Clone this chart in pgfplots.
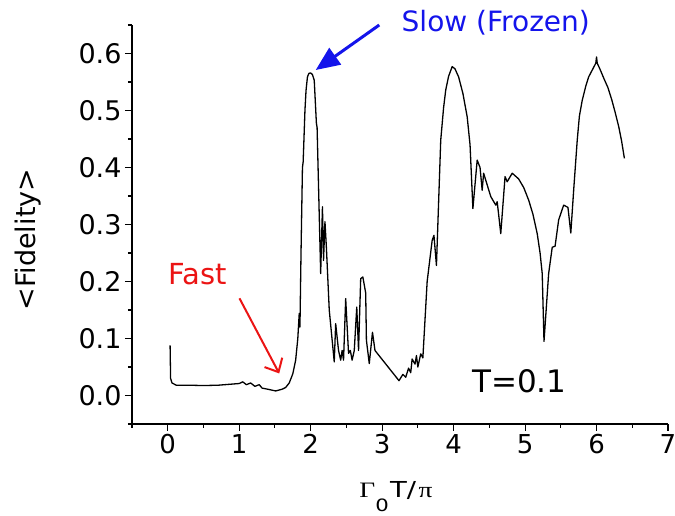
\documentclass[border=0pt]{standalone}
\usepackage{fontspec}
\setmainfont{DejaVu Sans}
\newfontfamily\greekserif{Liberation Serif}
\usepackage{pgfplots}
\pgfplotsset{compat=1.18}
\usetikzlibrary{arrows.meta}
\definecolor{myblue}{RGB}{20,20,235}
\definecolor{myred}{RGB}{235,20,20}
\pgfplotstableread{
x y
0.033 0.088
0.040 0.030
0.060 0.022
0.120 0.018
0.300 0.018
0.500 0.0175
0.700 0.018
0.900 0.020
1.000 0.021
1.050 0.024
1.100 0.019
1.160 0.022
1.220 0.016
1.280 0.019
1.320 0.013
1.400 0.011
1.510 0.008
1.600 0.011
1.650 0.014
1.700 0.022
1.750 0.038
1.790 0.062
1.820 0.100
1.840 0.144
1.850 0.120
1.865 0.250
1.885 0.400
1.895 0.410
1.920 0.500
1.935 0.535
1.955 0.559
1.975 0.565
2.000 0.566
2.025 0.563
2.050 0.553
2.080 0.478
2.090 0.470
2.140 0.214
2.165 0.331
2.180 0.237
2.200 0.305
2.220 0.260
2.260 0.150
2.330 0.059
2.350 0.126
2.390 0.079
2.420 0.062
2.440 0.079
2.460 0.062
2.490 0.170
2.530 0.074
2.555 0.079
2.580 0.062
2.610 0.079
2.645 0.155
2.670 0.079
2.700 0.205
2.730 0.208
2.770 0.180
2.780 0.097
2.820 0.056
2.865 0.111
2.900 0.079
3.236 0.026
3.290 0.037
3.330 0.032
3.370 0.048
3.400 0.040
3.420 0.064
3.460 0.055
3.480 0.070
3.500 0.050
3.540 0.073
3.570 0.066
3.630 0.200
3.700 0.272
3.725 0.281
3.760 0.228
3.820 0.448
3.860 0.505
3.890 0.536
3.930 0.560
3.980 0.577
4.020 0.573
4.070 0.559
4.130 0.530
4.190 0.489
4.230 0.440
4.270 0.328
4.330 0.413
4.370 0.400
4.400 0.360
4.420 0.390
4.520 0.349
4.590 0.334
4.610 0.340
4.660 0.284
4.720 0.384
4.750 0.375
4.820 0.390
4.910 0.380
4.980 0.365
5.050 0.343
5.110 0.318
5.170 0.284
5.210 0.250
5.240 0.214
5.265 0.095
5.330 0.214
5.380 0.260
5.420 0.262
5.470 0.308
5.540 0.334
5.600 0.330
5.640 0.285
5.680 0.360
5.730 0.448
5.760 0.490
5.800 0.518
5.850 0.543
5.890 0.559
5.940 0.571
5.990 0.583
6.000 0.594
6.010 0.583
6.050 0.572
6.100 0.557
6.160 0.540
6.215 0.518
6.260 0.497
6.310 0.472
6.350 0.447
6.390 0.416
}\fid
\begin{document}
\begin{tikzpicture}
\path[use as bounding box] (0,0) rectangle (675pt,516pt);
\begin{axis}[
  at={(132pt,92pt)}, anchor=south west,
  width=536pt, height=399pt, scale only axis,
  xmin=-0.5, xmax=7, ymin=-0.05, ymax=0.65,
  axis x line*=bottom, axis y line*=left,
  axis line style={line width=1.1pt, -},
  xtick={0,1,2,3,4,5,6,7}, minor xtick={-0.5,0.5,1.5,2.5,3.5,4.5,5.5,6.5},
  ytick={0,0.1,0.2,0.3,0.4,0.5,0.6},
  minor ytick={-0.05,0.05,0.15,0.25,0.35,0.45,0.55,0.65},
  yticklabel style={font=\fontsize{27}{30}\selectfont, /pgf/number format/.cd, fixed, fixed zerofill, precision=1},
  xticklabel style={font=\fontsize{26}{30}\selectfont},
  tick style={black, line width=1.1pt},
  major tick length=7pt, minor tick length=4pt,
  tick align=outside,
  /pgf/number format/assume math mode=true,
  xlabel={\scalebox{1.25}[1]{{\greekserif Γ}\raisebox{-14pt}{\fontsize{17}{19}\selectfont 0}\kern1pt T/\kern2pt{\greekserif π}}},
  ylabel={<Fidelity>},
  xlabel style={font=\fontsize{22}{26}\selectfont, at={(axis description cs:0.4925,-0.183)}, anchor=base},
  ylabel style={font=\fontsize{27}{30}\selectfont, at={(axis description cs:-0.194,0.462)}, anchor=center},
  clip=false,
]
\addplot[black, line width=1.3pt, line join=round] table[x=x, y=y] {\fid};
\node[myblue, font=\fontsize{28}{31}\selectfont] at (axis cs:4.59,0.654) {Slow (Frozen)};
\draw[myblue, line width=3pt, -{Triangle[length=24pt,width=20pt]}] (axis cs:2.96,0.650) -- (axis cs:2.07,0.571);
\node[myred, font=\fontsize{29}{32}\selectfont] at (axis cs:0.416,0.2127) {Fast};
\draw[myred, line width=2pt, -{Straight Barb[length=11pt,width=20pt]}] (axis cs:1.004,0.1705) -- (axis cs:1.56,0.0387);
\node[black, font=\fontsize{31}{34}\selectfont] at (axis cs:4.92,0.025) {T=0.1};
\end{axis}
\end{tikzpicture}
\end{document}
